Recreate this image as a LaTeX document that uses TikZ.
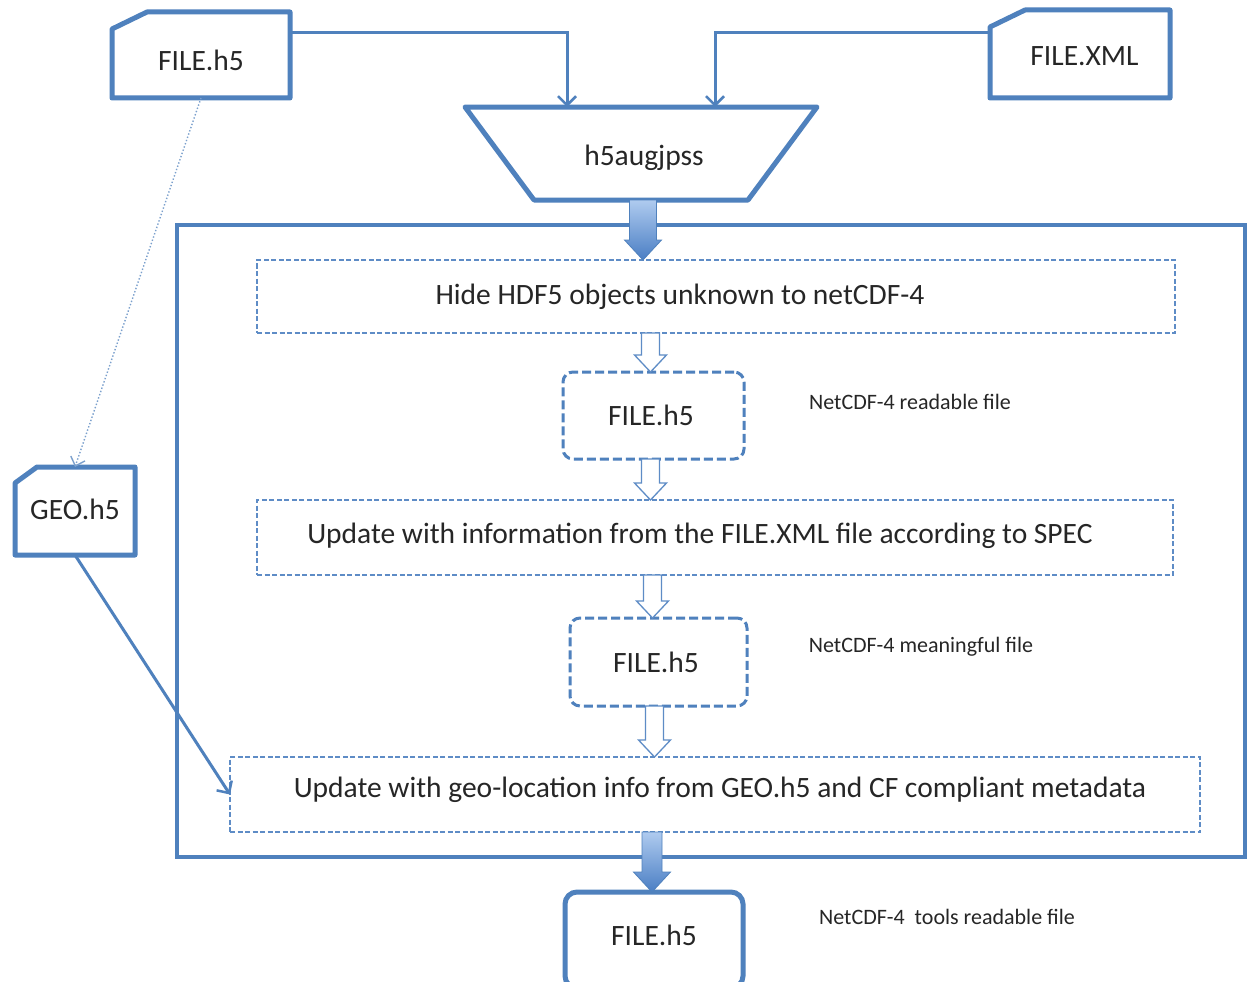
\documentclass[tikz,border=0pt]{standalone}
\usepackage{fontspec}
\setmainfont{Carlito}
\usetikzlibrary{calc,arrows.meta}

\definecolor{edge}{HTML}{4F81BD}
\definecolor{dashedge}{HTML}{5E8CC6}
\definecolor{ink}{HTML}{262626}
\definecolor{shadetop}{HTML}{AFCBEF}
\definecolor{shadebot}{HTML}{4A7EC4}

% shaded or hollow block arrow from one anchor down to another
\newcommand\blockarrow[6][]{%
  \path[#1] let \p1=(#2), \p2=(#3) in
    (\x1-#4,\y1) -- (\x1+#4,\y1) -- (\x1+#4,\y2+#6) -- (\x1+#5,\y2+#6)
    -- (\x1,\y2) -- (\x1-#5,\y2+#6) -- (\x1-#4,\y2+#6) -- cycle;}

% file card: rectangle with the top-left corner cut off
\newcommand\cardoutline[3]{%
  \draw[card] ($(#1.north west)+(0,#3)$) -- ($(#1.north west)+(#2,0)$)
    -- (#1.north east) -- (#1.south east) -- (#1.south west) -- cycle;}

\tikzset{
  every node/.style={text=ink, font=\fontsize{29.5}{35}\selectfont},
  area/.style 2 args={inner sep=0pt, outer sep=0pt, minimum width=#1, minimum height=#2},
  card/.style={draw=edge, line width=5pt, line join=round},
  stagebox/.style={draw=dashedge, line width=1.3pt, dash pattern=on 5pt off 2.5pt},
  midfile/.style={draw=edge, line width=3pt, dash pattern=on 9pt off 4pt, rounded corners=10pt},
  outfile/.style={draw=edge, line width=5pt, rounded corners=12pt},
  note/.style={font=\fontsize{22}{26}\selectfont},
  link/.style={draw=edge, line width=3pt, -{Straight Barb[length=9pt,width=18pt,line width=2.5pt]}},
  hint/.style={draw=edge!75, line width=1.4pt, dotted, -{Straight Barb[length=8pt,width=15pt,line width=1.4pt]}},
  solidarrow/.style={draw=edge, line width=0.8pt, top color=shadetop, bottom color=shadebot},
  hollowarrow/.style={draw=dashedge, line width=1.3pt, fill=white},
}

\begin{document}
\begin{tikzpicture}[x=1pt, y=-1pt]
\useasboundingbox[fill=white] (0,0) rectangle (1251,982);

% input files and the augmentation tool
\node[area={178pt}{86pt}, text height=32pt] (src) at (201,55) {FILE.h5};
\node[area={180pt}{88pt}, text height=23pt] (xml) at (1080,54) {\hspace*{9pt}FILE.XML};
\node[area={120pt}{88pt}, text depth=3pt] (geo) at (75,511) {GEO.h5};
\node[area={352pt}{93pt}, text height=30pt] (aug) at (641,153.5) {\hspace*{6pt}h5augjpss};

\cardoutline{src}{35}{17}
\cardoutline{xml}{35}{17}
\cardoutline{geo}{22}{16}
\draw[card] (aug.north west) -- (aug.north east)
  -- ($(aug.south east)+(-69,0)$) -- ($(aug.south west)+(69,0)$) -- cycle;

% processing stage
\node[area={1068pt}{632pt}, draw=edge, line width=4pt] (stage) at (711,541) {};

\node[stagebox, area={918pt}{73pt}] (b1) at (716,296.5) {};
\node (t1) at (680,297) {Hide HDF5 objects unknown to netCDF-4};
\node[midfile, area={181pt}{87pt}] (m1) at (653.5,415.5) {FILE.h5\hspace*{5pt}};
\node[stagebox, area={916pt}{75pt}] (b2) at (715,537.5) {};
\node (t2) at (700,536) {Update with information from the FILE.XML file according to SPEC};
\node[midfile, area={177pt}{88pt}] (m2) at (658.5,662) {FILE.h5\hspace*{5pt}};
\node[stagebox, area={970pt}{75pt}] (b3) at (715,794.5) {};
\node (t3) at (720,790) {Update with geo-location info from GEO.h5 and CF compliant metadata};

% output file
\node[outfile, area={178pt}{96pt}, text depth=10pt] (out) at (654,940) {FILE.h5};

% side notes
\node[note] (n1) at (910,402) {NetCDF-4 readable file};
\node[note] (n2) at (921,647) {NetCDF-4 meaningful file};
\node[note] (n3) at (947,917) {NetCDF-4\ \ tools readable file};

% connectors
\draw[link] ($(src.north east)+(0,21)$) -| ($(aug.north)+(-74,0)$);
\draw[link] ($(xml.north west)+(0,23)$) -| ($(aug.north)+(74,0)$);
\draw[hint] (src.south) -- (geo.north);
\draw[link] (geo.south) -- (b3.west);

% flow arrows
\blockarrow[solidarrow]{$(aug.south)+(2,0)$}{$(aug.south |- b1.north)+(2,0)$}{13.5pt}{18.5pt}{20pt}
\blockarrow[hollowarrow]{$(m1.north |- b1.south)+(-3,0)$}{$(m1.north)+(-3,0)$}{9pt}{16pt}{17pt}
\blockarrow[hollowarrow]{$(m1.south)+(-3,0)$}{$(m1.south |- b2.north)+(-3,0)$}{9pt}{16pt}{17pt}
\blockarrow[hollowarrow]{$(m2.north |- b2.south)+(-6,0)$}{$(m2.north)+(-6,0)$}{9pt}{16pt}{17pt}
\blockarrow[hollowarrow]{$(m2.south)+(-4,0)$}{$(m2.south |- b3.north)+(-4,0)$}{9pt}{16pt}{17pt}
\blockarrow[solidarrow]{$(out.north |- b3.south)+(-2,0)$}{$(out.north)+(-2,0)$}{10pt}{18.5pt}{20pt}
\end{tikzpicture}
\end{document}
